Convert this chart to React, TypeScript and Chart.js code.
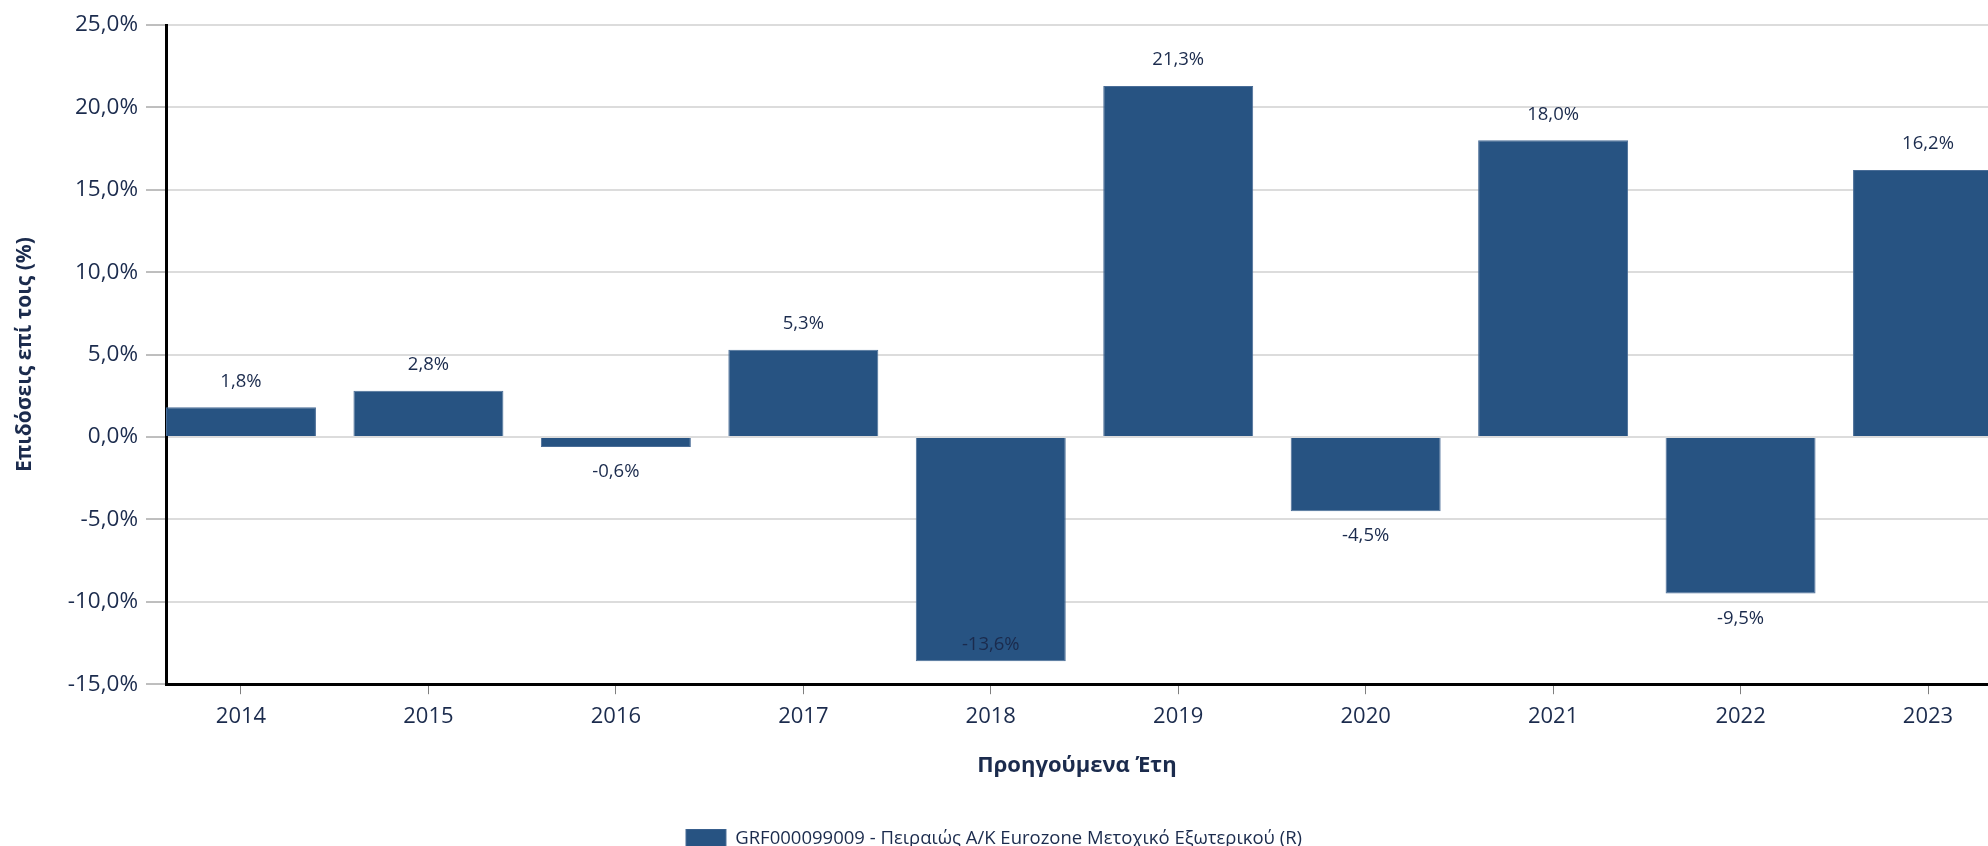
import React, { useEffect, useRef } from 'react';
import { Chart, registerables } from 'chart.js';

Chart.register(...registerables);

const years: string[] = ['2014', '2015', '2016', '2017', '2018', '2019', '2020', '2021', '2022', '2023'];
const returns: number[] = [1.8, 2.8, -0.6, 5.3, -13.6, 21.3, -4.5, 18.0, -9.5, 16.2];
const yTickValues: number[] = [-15, -10, -5, 0, 5, 10, 15, 20, 25];
const seriesLabel = 'GRF000099009 - Πειραιώς Α/Κ Eurozone Μετοχικό Εξωτερικού (R)';
const xTitle = 'Προηγούμενα Έτη';
const yTitle = 'Επιδόσεις επί τοις (%)';

const BAR = '#275382';
const TEXT = '#1b2b4d';
const FONT = '"Open Sans", "Noto Sans", sans-serif';

const fmt = (v: number) => v.toFixed(1).replace('.', ',') + '%';

const valueLabels = {
  id: 'valueLabels',
  afterDatasetsDraw(chart: any) {
    const { ctx, chartArea } = chart;
    const meta = chart.getDatasetMeta(0);
    ctx.save();
    ctx.font = `18.5px ${FONT}`;
    ctx.fillStyle = TEXT;
    ctx.textAlign = 'center';
    ctx.textBaseline = 'middle';
    meta.data.forEach((el: any, i: number) => {
      const v = returns[i];
      let y: number;
      if (v >= 0) {
        y = el.y - 26;
      } else {
        y = el.y + 25;
        if (y + 8 > chartArea.bottom) y = el.y - 16;
      }
      ctx.fillText(fmt(v), el.x, y);
    });
    ctx.restore();
  },
};

export default function App() {
  const canvasRef = useRef<HTMLCanvasElement | null>(null);

  useEffect(() => {
    if (!canvasRef.current) return;
    const chart = new Chart(canvasRef.current, {
      type: 'bar',
      data: {
        datasets: [
          {
            label: seriesLabel,
            data: returns.map((v, i) => ({ x: i, y: v })),
            backgroundColor: BAR,
            borderColor: '#4a6d97',
            borderWidth: 1,
            categoryPercentage: 1,
            barPercentage: 0.8,
          },
        ],
      },
      options: {
        animation: false,
        responsive: true,
        maintainAspectRatio: false,
        layout: { padding: { top: 25, right: 0, left: 0, bottom: 0 } },
        plugins: {
          tooltip: { enabled: false },
          legend: {
            display: true,
            position: 'bottom',
            labels: {
              boxWidth: 40,
              boxHeight: 20,
              padding: 0,
              color: TEXT,
              font: { family: FONT, size: 18.5 },
            },
          },
        },
        scales: {
          x: {
            type: 'linear',
            offset: false,
            min: -0.4,
            max: 9.32,
            afterBuildTicks: (axis: any) => {
              axis.ticks = years.map((_, i) => ({ value: i }));
            },
            ticks: {
              autoSkip: false,
              padding: 9,
              maxRotation: 0,
              color: TEXT,
              font: { family: FONT, size: 22 },
              callback: (v: any) => years[Number(v)] ?? '',
            },
            grid: {
              offset: false,
              drawOnChartArea: false,
              drawTicks: true,
              tickLength: 10,
              tickColor: '#7f7f7f',
              tickWidth: 1,
            },
            border: { display: true, color: '#000000', width: 3 },
            title: {
              display: true,
              text: xTitle,
              color: TEXT,
              font: { family: FONT, size: 22, weight: 'bold' },
              padding: { top: 14, bottom: 50 },
            },
          },
          y: {
            min: -15,
            max: 25,
            afterBuildTicks: (axis: any) => {
              axis.ticks = yTickValues.map((v) => ({ value: v }));
            },
            afterFit: (scale: any) => {
              scale.width = 166;
            },
            ticks: {
              padding: 8,
              color: TEXT,
              font: { family: FONT, size: 22.5 },
              callback: (v: any) => fmt(Number(v)),
            },
            grid: {
              color: '#dcdcdc',
              lineWidth: 2,
              drawTicks: true,
              tickLength: 20,
              tickColor: '#7f7f7f',
              tickWidth: 1,
            },
            border: { display: true, color: '#000000', width: 3 },
            title: {
              display: true,
              text: yTitle,
              color: TEXT,
              font: { family: FONT, size: 21, weight: 'bold' },
              padding: { top: 12, bottom: 0 },
            },
          },
        },
      },
      plugins: [valueLabels],
    } as any);
    return () => chart.destroy();
  }, []);

  return (
    <div style={{ position: 'absolute', left: 0, top: 0, width: 1988, height: 846, overflow: 'hidden', background: '#ffffff' }}>
      <div style={{ position: 'relative', width: 1988, height: 859 }}>
        <canvas ref={canvasRef} />
      </div>
    </div>
  );
}
